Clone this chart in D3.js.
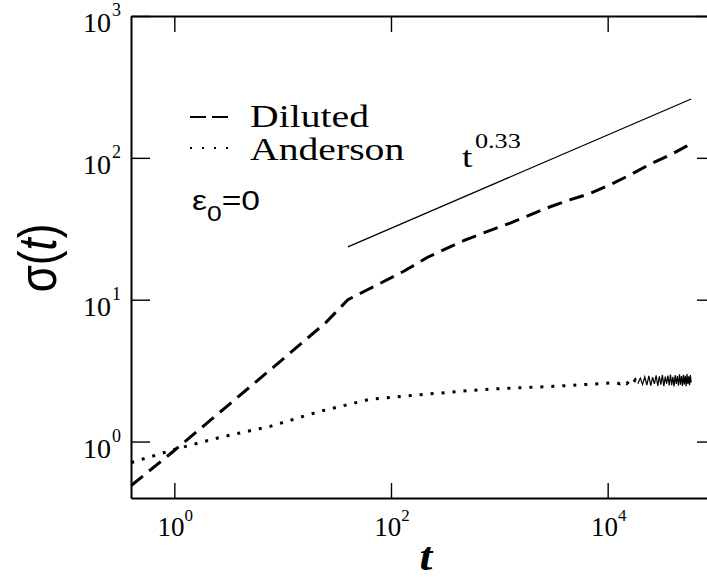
<!DOCTYPE html>
<html lang="en">
<head>
<meta charset="UTF-8">
<title>sigma(t)</title>
<script src="https://cdn.jsdelivr.net/npm/d3@7"></script>
<style>
  body { margin: 0; background: #fff; }
  text { fill: #000; }
</style>
</head>
<body>
<script>
// data
var dilutedT = [0.4, 1, 3, 10, 25, 40, 60, 130, 220, 480, 710, 1260, 1950, 2950, 4470, 6600, 10500, 16200, 24500, 38000, 52500, 59000];
var dilutedS = [0.49, 0.865, 1.75, 3.8, 6.9, 10, 11.7, 15.8, 20, 26.3, 29.5, 34.7, 39.8, 45.2, 50.5, 55.5, 64.5, 76, 90, 105, 120, 126];

var andersonT = [0.4, 1, 2.63, 7.7, 21.9, 63, 186, 537, 1000, 3160, 8500,
  12000, 13000, 14000, 15000, 16000, 17000, 18000, 19000];
var andersonS = [0.71, 0.88, 1.07, 1.28, 1.63, 1.98, 2.14, 2.29, 2.36, 2.45, 2.56,
  2.60, 2.55, 2.66, 2.56, 2.68, 2.55, 2.72, 2.56];

// noisy tail of the Anderson curve
var tailT = [19000, 20000, 21000, 22000, 23000, 24000, 25000, 26000, 27000, 28000, 29000,
  30000, 31000, 32000, 33000, 34000, 35000, 36000, 37000, 38000, 39000,
  40000, 41000, 42000, 43000, 44000, 45000, 46000, 47000, 48000, 49000,
  50000, 51000, 52000, 53000, 54000, 55000, 56000, 57000, 58000, 59000];
var tailS = [2.56, 2.80, 2.52, 2.86, 2.50, 2.90, 2.48, 2.84, 2.55, 2.93, 2.47,
  2.88, 2.52, 2.95, 2.46, 2.87, 2.56, 2.92, 2.49, 2.97, 2.50,
  2.86, 2.45, 2.94, 2.55, 2.90, 2.48, 2.98, 2.52, 2.89, 2.47,
  2.96, 2.53, 2.91, 2.46, 2.99, 2.55, 2.88, 2.50, 2.94, 2.60];

var powerT = [40, 59000];
var powerS = [23.6, 260];

var xTicks = [1, 100, 10000];
var xTickExp = ["0", "2", "4"];
var yTicks = [1, 10, 100, 1000];
var yTickExp = ["0", "1", "2", "3"];

var width = 707, height = 577;
var box = {left: 131, right: 716, top: 16, bottom: 498};
var serif = "'Liberation Serif', 'Times New Roman', serif";
var sans = "'Liberation Sans', Arial, sans-serif";

var svg = d3.select("body").append("svg").attr("width", width).attr("height", height);

var x = d3.scaleLog().domain([Math.pow(10, -0.4), 1e5]).range([box.left, box.right]);
var y = d3.scaleLog().domain([0.4, 1000]).range([box.bottom, box.top]);

// axes, ticks pointing inward
svg.append("g").attr("transform", "translate(0," + box.bottom + ")")
  .call(d3.axisBottom(x).tickValues(xTicks).tickFormat("").tickSizeInner(-15).tickSizeOuter(0));
svg.append("g").attr("transform", "translate(0," + box.top + ")")
  .call(d3.axisTop(x).tickValues(xTicks).tickFormat("").tickSizeInner(-16).tickSizeOuter(0));
svg.append("g").attr("transform", "translate(" + box.left + ",0)")
  .call(d3.axisLeft(y).tickValues(yTicks).tickFormat("").tickSizeInner(-19).tickSizeOuter(0));
svg.append("g").attr("transform", "translate(" + box.right + ",0)")
  .call(d3.axisRight(y).tickValues(yTicks).tickFormat("").tickSizeInner(-19).tickSizeOuter(0));
svg.selectAll(".domain").attr("stroke", "#000").attr("stroke-width", 2);
svg.selectAll(".tick line").attr("stroke", "#000").attr("stroke-width", 1.4);

// tick labels 10^n
var xl = svg.selectAll(".xlab").data(xTicks).enter().append("text")
  .attr("class", "xlab")
  .attr("x", function (d) { return x(d) + 1; })
  .attr("y", 536)
  .attr("text-anchor", "middle")
  .style("font-family", serif).style("font-size", "27px");
xl.append("tspan").text("10");
xl.append("tspan").attr("dy", -15).style("font-size", "17px")
  .text(function (d, i) { return xTickExp[i]; });

var yl = svg.selectAll(".ylab").data(yTicks).enter().append("text")
  .attr("class", "ylab")
  .attr("x", 121)
  .attr("y", function (d) { return y(d) + 16; })
  .attr("text-anchor", "end")
  .style("font-family", serif).style("font-size", "28px");
yl.append("tspan").text("10");
yl.append("tspan").attr("dy", -16).attr("dx", 1).style("font-size", "18px")
  .text(function (d, i) { return yTickExp[i]; });

// axis titles
svg.append("text")
  .attr("transform", "translate(426,570) scale(1.15,1)")
  .attr("text-anchor", "middle")
  .style("font-family", serif).style("font-size", "40px")
  .style("font-weight", "bold").style("font-style", "italic")
  .text("t");

var yt = svg.append("text")
  .attr("transform", "translate(56,258) scale(1.2,1) rotate(-90)")
  .attr("text-anchor", "middle")
  .style("font-family", sans).style("font-size", "44px");
yt.append("tspan").text("σ(");
yt.append("tspan").style("font-style", "italic").text("t");
yt.append("tspan").text(")");

// curves
var line = d3.line()
  .x(function (d) { return x(d[0]); })
  .y(function (d) { return y(d[1]); });

svg.append("path")
  .attr("d", line(d3.zip(dilutedT, dilutedS)))
  .attr("fill", "none").attr("stroke", "#000")
  .attr("stroke-width", 3).attr("stroke-dasharray", "15,8");

svg.append("path")
  .attr("d", line(d3.zip(andersonT, andersonS)))
  .attr("fill", "none").attr("stroke", "#000")
  .attr("stroke-width", 3).attr("stroke-dasharray", "3,8");

svg.append("path")
  .attr("d", line(d3.zip(tailT, tailS)))
  .attr("fill", "none").attr("stroke", "#000")
  .attr("stroke-width", 1.2);

svg.append("path")
  .attr("d", line(d3.zip(powerT, powerS)))
  .attr("fill", "none").attr("stroke", "#000")
  .attr("stroke-width", 1.3);

// legend
svg.append("line").attr("x1", 190).attr("x2", 228).attr("y1", 117).attr("y2", 117)
  .attr("stroke", "#000").attr("stroke-width", 2).attr("stroke-dasharray", "16,6");
svg.append("line").attr("x1", 190).attr("x2", 230).attr("y1", 148).attr("y2", 148)
  .attr("stroke", "#000").attr("stroke-width", 2).attr("stroke-dasharray", "2,10");

svg.append("text")
  .attr("transform", "translate(250,127) scale(1.28,1)")
  .style("font-family", serif).style("font-size", "31px")
  .text("Diluted");
svg.append("text")
  .attr("transform", "translate(250,160) scale(1.28,1)")
  .style("font-family", serif).style("font-size", "31px")
  .text("Anderson");

// t^0.33 annotation
var pl = svg.append("text")
  .attr("transform", "translate(462,167) scale(1.25,1)")
  .style("font-family", serif).style("font-size", "30px");
pl.append("tspan").text("t");
pl.append("tspan").attr("dx", 2).attr("dy", -19).style("font-size", "21px").text("0.33");

// epsilon_0 = 0
var ep = svg.append("text")
  .attr("transform", "translate(192,210) scale(1.2,1)")
  .style("font-family", sans).style("font-size", "28px");
ep.append("tspan").text("ε");
ep.append("tspan").attr("dy", 11).style("font-size", "22px").text("0");
ep.append("tspan").attr("dy", -11).text("=0");
</script>
</body>
</html>
